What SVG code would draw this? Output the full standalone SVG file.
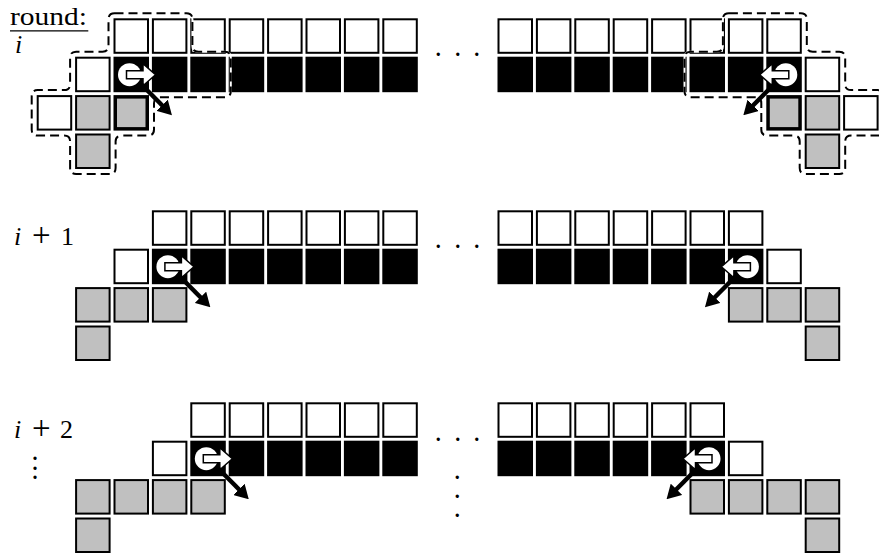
<svg xmlns="http://www.w3.org/2000/svg" xmlns:xlink="http://www.w3.org/1999/xlink" width="879" height="554" viewBox="0 0 879 554">
<style>
.w{fill:#fff;stroke:#000;stroke-width:2}
.b{fill:#000;stroke:#000;stroke-width:2}
.g{fill:#c0c0c0;stroke:#000;stroke-width:2}
.gt{fill:#c0c0c0;stroke:#000;stroke-width:3.5}
.lbl{font-family:"Liberation Serif","DejaVu Serif",serif;font-size:26px;fill:#000}
.dots{font-family:"Liberation Serif","DejaVu Serif",serif;font-size:20px;font-weight:bold;fill:#000}
.it{font-style:italic}
.dash-under{fill:none;stroke:#fff;stroke-width:2}
.dash{fill:none;stroke:#000;stroke-width:2;stroke-dasharray:9 5}
.mv{stroke:#000;stroke-width:4.5;fill:none;marker-end:url(#ah)}
</style>
<defs>
<rect id="c" x="1" y="1" width="33.5" height="33.5"/>
<rect id="ct" x="1.75" y="1.75" width="32" height="32"/>
<g id="bot">
<circle cx="16" cy="18" r="11.5" fill="#fff"/>
<path d="M13,14 H29.5 V7 L42,18 L29.5,29 V22 H13 Z" fill="#fff" stroke="#000" stroke-width="1.5"/>
</g>
<marker id="ah" markerUnits="userSpaceOnUse" viewBox="0 0 14 16" markerWidth="14" markerHeight="16" refX="1" refY="8" orient="auto">
<path d="M0,0 L14,8 L0,16 Z" fill="#000"/>
</marker>
</defs>
<rect width="879" height="554" fill="#fff"/>

<!-- labels -->
<g id="labels">
<text class="lbl" x="10" y="25" textLength="77" lengthAdjust="spacingAndGlyphs">round:</text>
<line x1="10" y1="30.8" x2="88.3" y2="30.8" stroke="#000" stroke-width="1.2"/>
<text class="lbl it" x="15" y="53">i</text>
<text class="lbl" y="245"><tspan class="it" x="14">i</tspan><tspan x="32" font-size="33" dy="1">+</tspan><tspan x="61" dy="-1">1</tspan></text>
<text class="lbl" y="438"><tspan class="it" x="14">i</tspan><tspan x="32" font-size="33" dy="1">+</tspan><tspan x="60" dy="-1">2</tspan></text>
<text class="dots" x="35 35 35" y="460 469.5 479" text-anchor="middle">...</text>
<text class="dots" x="438.3 457.7 476.7" y="56" text-anchor="middle">...</text>
<text class="dots" x="438.3 457.7 476.7" y="248" text-anchor="middle">...</text>
<text class="dots" x="438.3 457.7 476.7" y="440.5" text-anchor="middle">...</text>
<text class="dots" x="457.3 457.3 457.3" y="479 498.3 517.3" text-anchor="middle">...</text>
</g>

<!-- round i -->
<g id="round-i-left">
<g id="ri-L-top">
<use href="#c" class="w" x="113.5" y="18.3"/><use href="#c" class="w" x="151.9" y="18.3"/><use href="#c" class="w" x="190.3" y="18.3"/><use href="#c" class="w" x="228.7" y="18.3"/><use href="#c" class="w" x="267.1" y="18.3"/><use href="#c" class="w" x="305.5" y="18.3"/><use href="#c" class="w" x="343.9" y="18.3"/><use href="#c" class="w" x="382.3" y="18.3"/>
</g>
<g id="ri-L-mid">
<use href="#c" class="w" x="75.1" y="56.7"/>
<use href="#c" class="b" x="113.5" y="56.7"/><use href="#c" class="b" x="151.9" y="56.7"/><use href="#c" class="b" x="190.3" y="56.7"/><use href="#c" class="b" x="228.7" y="56.7"/><use href="#c" class="b" x="267.1" y="56.7"/><use href="#c" class="b" x="305.5" y="56.7"/><use href="#c" class="b" x="343.9" y="56.7"/><use href="#c" class="b" x="382.3" y="56.7"/>
</g>
<g id="ri-L-low">
<use href="#c" class="w" x="36.7" y="95.1"/><use href="#c" class="g" x="75.1" y="95.1"/><use href="#ct" class="gt" x="113.5" y="95.1"/>
<use href="#c" class="g" x="75.1" y="133.5"/>
</g>
</g>
<g id="round-i-right">
<g id="ri-R-top">
<use href="#c" class="w" x="497.5" y="18.3"/><use href="#c" class="w" x="535.9" y="18.3"/><use href="#c" class="w" x="574.3" y="18.3"/><use href="#c" class="w" x="612.7" y="18.3"/><use href="#c" class="w" x="651.1" y="18.3"/><use href="#c" class="w" x="689.5" y="18.3"/><use href="#c" class="w" x="727.9" y="18.3"/><use href="#c" class="w" x="766.3" y="18.3"/>
</g>
<g id="ri-R-mid">
<use href="#c" class="b" x="497.5" y="56.7"/><use href="#c" class="b" x="535.9" y="56.7"/><use href="#c" class="b" x="574.3" y="56.7"/><use href="#c" class="b" x="612.7" y="56.7"/><use href="#c" class="b" x="651.1" y="56.7"/><use href="#c" class="b" x="689.5" y="56.7"/><use href="#c" class="b" x="727.9" y="56.7"/><use href="#c" class="b" x="766.3" y="56.7"/>
<use href="#c" class="w" x="804.7" y="56.7"/>
</g>
<g id="ri-R-low">
<use href="#ct" class="gt" x="766.3" y="95.1"/><use href="#c" class="g" x="804.7" y="95.1"/><use href="#c" class="w" x="843.1" y="95.1"/>
<use href="#c" class="g" x="804.7" y="133.5"/>
</g>
</g>
<g id="ri-neighbourhoods">
<path class="dash-under" d="M 114.5,13.3 H 186.4 Q 192.4,13.3 192.4,19.3 V 45.7 Q 192.4,51.7 198.4,51.7 H 224.8 Q 230.8,51.7 230.8,57.7 V 91.2 Q 230.8,97.2 224.8,97.2 H 160 Q 154,97.2 154,103.2 V 129.6 Q 154,135.6 148,135.6 H 121.6 Q 115.6,135.6 115.6,141.6 V 168 Q 115.6,174 109.6,174 H 76.1 Q 70.1,174 70.1,168 V 141.6 Q 70.1,135.6 64.1,135.6 H 37.7 Q 31.7,135.6 31.7,129.6 V 96.1 Q 31.7,90.1 37.7,90.1 H 64.1 Q 70.1,90.1 70.1,84.1 V 57.7 Q 70.1,51.7 76.1,51.7 H 102.5 Q 108.5,51.7 108.5,45.7 V 19.3 Q 108.5,13.3 114.5,13.3 Z"/>
<path class="dash" d="M 114.5,13.3 H 186.4 Q 192.4,13.3 192.4,19.3 V 45.7 Q 192.4,51.7 198.4,51.7 H 224.8 Q 230.8,51.7 230.8,57.7 V 91.2 Q 230.8,97.2 224.8,97.2 H 160 Q 154,97.2 154,103.2 V 129.6 Q 154,135.6 148,135.6 H 121.6 Q 115.6,135.6 115.6,141.6 V 168 Q 115.6,174 109.6,174 H 76.1 Q 70.1,174 70.1,168 V 141.6 Q 70.1,135.6 64.1,135.6 H 37.7 Q 31.7,135.6 31.7,129.6 V 96.1 Q 31.7,90.1 37.7,90.1 H 64.1 Q 70.1,90.1 70.1,84.1 V 57.7 Q 70.1,51.7 76.1,51.7 H 102.5 Q 108.5,51.7 108.5,45.7 V 19.3 Q 108.5,13.3 114.5,13.3 Z"/>
<path class="dash-under" d="M 728.9,13.3 H 800.8 Q 806.8,13.3 806.8,19.3 V 45.7 Q 806.8,51.7 812.8,51.7 H 839.2 Q 845.2,51.7 845.2,57.7 V 84.1 Q 845.2,90.1 851.2,90.1 H 877.6 Q 883.6,90.1 883.6,96.1 V 129.6 Q 883.6,135.6 877.6,135.6 H 851.2 Q 845.2,135.6 845.2,141.6 V 168 Q 845.2,174 839.2,174 H 805.7 Q 799.7,174 799.7,168 V 141.6 Q 799.7,135.6 793.7,135.6 H 767.3 Q 761.3,135.6 761.3,129.6 V 103.2 Q 761.3,97.2 755.3,97.2 H 690.5 Q 684.5,97.2 684.5,91.2 V 57.7 Q 684.5,51.7 690.5,51.7 H 716.9 Q 722.9,51.7 722.9,45.7 V 19.3 Q 722.9,13.3 728.9,13.3 Z"/>
<path class="dash" d="M 728.9,13.3 H 800.8 Q 806.8,13.3 806.8,19.3 V 45.7 Q 806.8,51.7 812.8,51.7 H 839.2 Q 845.2,51.7 845.2,57.7 V 84.1 Q 845.2,90.1 851.2,90.1 H 877.6 Q 883.6,90.1 883.6,96.1 V 129.6 Q 883.6,135.6 877.6,135.6 H 851.2 Q 845.2,135.6 845.2,141.6 V 168 Q 845.2,174 839.2,174 H 805.7 Q 799.7,174 799.7,168 V 141.6 Q 799.7,135.6 793.7,135.6 H 767.3 Q 761.3,135.6 761.3,129.6 V 103.2 Q 761.3,97.2 755.3,97.2 H 690.5 Q 684.5,97.2 684.5,91.2 V 57.7 Q 684.5,51.7 690.5,51.7 H 716.9 Q 722.9,51.7 722.9,45.7 V 19.3 Q 722.9,13.3 728.9,13.3 Z"/>
</g>

<!-- round i+1 -->
<g id="round-i1-left">
<g id="ri1-L-top">
<use href="#c" class="w" x="151.9" y="210.3"/><use href="#c" class="w" x="190.3" y="210.3"/><use href="#c" class="w" x="228.7" y="210.3"/><use href="#c" class="w" x="267.1" y="210.3"/><use href="#c" class="w" x="305.5" y="210.3"/><use href="#c" class="w" x="343.9" y="210.3"/><use href="#c" class="w" x="382.3" y="210.3"/>
</g>
<g id="ri1-L-mid">
<use href="#c" class="w" x="113.5" y="248.7"/>
<use href="#c" class="b" x="151.9" y="248.7"/><use href="#c" class="b" x="190.3" y="248.7"/><use href="#c" class="b" x="228.7" y="248.7"/><use href="#c" class="b" x="267.1" y="248.7"/><use href="#c" class="b" x="305.5" y="248.7"/><use href="#c" class="b" x="343.9" y="248.7"/><use href="#c" class="b" x="382.3" y="248.7"/>
</g>
<g id="ri1-L-low">
<use href="#c" class="g" x="75.1" y="287.1"/><use href="#c" class="g" x="113.5" y="287.1"/><use href="#c" class="g" x="151.9" y="287.1"/>
<use href="#c" class="g" x="75.1" y="325.5"/>
</g>
</g>
<g id="round-i1-right">
<g id="ri1-R-top">
<use href="#c" class="w" x="497.5" y="210.3"/><use href="#c" class="w" x="535.9" y="210.3"/><use href="#c" class="w" x="574.3" y="210.3"/><use href="#c" class="w" x="612.7" y="210.3"/><use href="#c" class="w" x="651.1" y="210.3"/><use href="#c" class="w" x="689.5" y="210.3"/><use href="#c" class="w" x="727.9" y="210.3"/>
</g>
<g id="ri1-R-mid">
<use href="#c" class="b" x="497.5" y="248.7"/><use href="#c" class="b" x="535.9" y="248.7"/><use href="#c" class="b" x="574.3" y="248.7"/><use href="#c" class="b" x="612.7" y="248.7"/><use href="#c" class="b" x="651.1" y="248.7"/><use href="#c" class="b" x="689.5" y="248.7"/><use href="#c" class="b" x="727.9" y="248.7"/>
<use href="#c" class="w" x="766.3" y="248.7"/>
</g>
<g id="ri1-R-low">
<use href="#c" class="g" x="727.9" y="287.1"/><use href="#c" class="g" x="766.3" y="287.1"/><use href="#c" class="g" x="804.7" y="287.1"/>
<use href="#c" class="g" x="804.7" y="325.5"/>
</g>
</g>

<!-- round i+2 -->
<g id="round-i2-left">
<g id="ri2-L-top">
<use href="#c" class="w" x="190.3" y="402.3"/><use href="#c" class="w" x="228.7" y="402.3"/><use href="#c" class="w" x="267.1" y="402.3"/><use href="#c" class="w" x="305.5" y="402.3"/><use href="#c" class="w" x="343.9" y="402.3"/><use href="#c" class="w" x="382.3" y="402.3"/>
</g>
<g id="ri2-L-mid">
<use href="#c" class="w" x="151.9" y="440.7"/>
<use href="#c" class="b" x="190.3" y="440.7"/><use href="#c" class="b" x="228.7" y="440.7"/><use href="#c" class="b" x="267.1" y="440.7"/><use href="#c" class="b" x="305.5" y="440.7"/><use href="#c" class="b" x="343.9" y="440.7"/><use href="#c" class="b" x="382.3" y="440.7"/>
</g>
<g id="ri2-L-low">
<use href="#c" class="g" x="75.1" y="479.1"/><use href="#c" class="g" x="113.5" y="479.1"/><use href="#c" class="g" x="151.9" y="479.1"/><use href="#c" class="g" x="190.3" y="479.1"/>
<use href="#c" class="g" x="75.1" y="517.5"/>
</g>
</g>
<g id="round-i2-right">
<g id="ri2-R-top">
<use href="#c" class="w" x="497.5" y="402.3"/><use href="#c" class="w" x="535.9" y="402.3"/><use href="#c" class="w" x="574.3" y="402.3"/><use href="#c" class="w" x="612.7" y="402.3"/><use href="#c" class="w" x="651.1" y="402.3"/><use href="#c" class="w" x="689.5" y="402.3"/>
</g>
<g id="ri2-R-mid">
<use href="#c" class="b" x="497.5" y="440.7"/><use href="#c" class="b" x="535.9" y="440.7"/><use href="#c" class="b" x="574.3" y="440.7"/><use href="#c" class="b" x="612.7" y="440.7"/><use href="#c" class="b" x="651.1" y="440.7"/><use href="#c" class="b" x="689.5" y="440.7"/>
<use href="#c" class="w" x="727.9" y="440.7"/>
</g>
<g id="ri2-R-low">
<use href="#c" class="g" x="689.5" y="479.1"/><use href="#c" class="g" x="727.9" y="479.1"/><use href="#c" class="g" x="766.3" y="479.1"/><use href="#c" class="g" x="804.7" y="479.1"/>
<use href="#c" class="g" x="804.7" y="517.5"/>
</g>
</g>

<!-- robots -->
<g id="robots">
<use href="#bot" x="113.5" y="56.7"/>
<use href="#bot" transform="translate(801.8,56.7) scale(-1,1)"/>
<use href="#bot" x="151.9" y="248.7"/>
<use href="#bot" transform="translate(763.4,248.7) scale(-1,1)"/>
<use href="#bot" x="190.3" y="440.7"/>
<use href="#bot" transform="translate(725,440.7) scale(-1,1)"/>
</g>

<!-- connectors: movement arrows -->
<g id="connectors">
<line class="mv" x1="139" y1="82" x2="162.8" y2="106"/>
<line class="mv" x1="776.3" y1="82" x2="752.5" y2="106"/>
<line class="mv" x1="177.4" y1="274" x2="201.2" y2="298"/>
<line class="mv" x1="737.9" y1="274" x2="714.1" y2="298"/>
<line class="mv" x1="215.8" y1="466" x2="239.6" y2="490"/>
<line class="mv" x1="699.5" y1="466" x2="675.7" y2="490"/>
</g>
</svg>
